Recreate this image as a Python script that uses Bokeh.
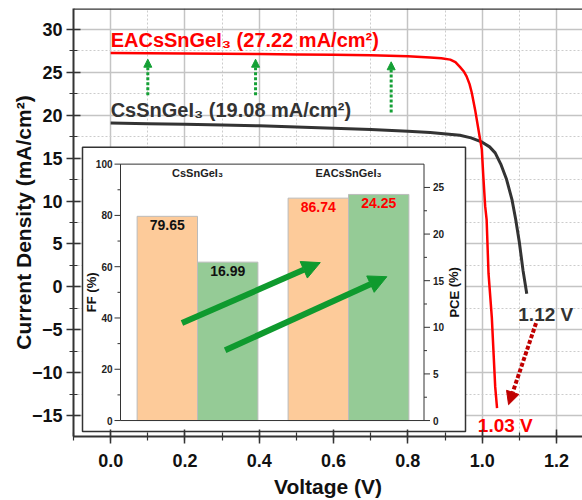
from bokeh.plotting import figure
from bokeh.models import (Range1d, SingleIntervalTicker, Arrow, NormalHead, Span,
                          ColumnDataSource, PrintfTickFormatter)
from bokeh.core.properties import value
from bokeh.embed import file_html
from bokeh.resources import INLINE

FONT = "Liberation Sans"

# ---------------- data ----------------
# J-V curve, CsSnGeI3
v_cs = [0.00, 0.10, 0.20, 0.30, 0.40, 0.50, 0.60, 0.70, 0.80, 0.86, 0.94, 0.97,
        1.00, 1.02, 1.035, 1.05, 1.065, 1.08, 1.09, 1.10, 1.11, 1.12]
j_cs = [19.08, 19.00, 18.92, 18.85, 18.75, 18.62, 18.48, 18.32, 18.12, 17.98, 17.65,
        17.35, 16.85, 16.30, 15.60, 14.30, 12.60, 10.20, 7.90, 5.20, 1.90, -0.80]
# J-V curve, EACsSnGeI3
v_ea = [0.00, 0.10, 0.20, 0.30, 0.40, 0.50, 0.60, 0.70, 0.80, 0.86, 0.89, 0.914,
        0.928, 0.94, 0.95, 0.958, 0.966, 0.972, 0.981, 0.99, 0.999, 1.003, 1.008,
        1.012, 1.017, 1.026, 1.035, 1.04]
j_ea = [27.22, 27.20, 27.17, 27.14, 27.10, 27.06, 27.02, 26.96, 26.85, 26.70, 26.62,
        26.45, 26.15, 25.60, 25.10, 24.50, 23.60, 22.60, 20.60, 18.30, 16.00, 12.90,
        9.40, 7.80, 1.60, -3.60, -11.60, -14.10]

devices = ["CsSnGeI\u2083", "EACsSnGeI\u2083"]
jsc_values = [19.08, 27.22]
voc_values = [1.12, 1.03]
device_colors = ["#333333", "#ff0000"]

# inset bar chart
ff_values = [79.65, 86.74]
pce_values = [16.99, 24.25]
bar_label_colors = ["#111111", "#ff0000"]
ff_ticks = [0, 20, 40, 60, 80, 100]
ff_minor = [10, 30, 50, 70, 90]
pce_ticks = [0, 5, 10, 15, 20, 25]
pce_minor = [2.5, 7.5, 12.5, 17.5, 22.5]

x_tick_interval = 0.2
y_tick_interval = 5
y_minus_ticks = [-5, -10, -15]

# ---------------- layout constants (pixels) ----------------
W, H = 582, 500
FL, FR, FT, FB = 73, 582, 8, 437          # main frame
IL, IR, IT, IB = 120, 423.5, 164, 421     # inset axes area
BOX = (82, 465, 147, 432)                 # inset outer box (l, r, t, b)
IX0, IX1 = 0.49, 2.5
FF_MAX, PCE_MAX = 100.0, 27.5

X0, X1 = -0.1, 1.27
Y0, Y1 = -17.4, 32.4

p = figure(width=W, height=H, x_range=Range1d(X0, X1), y_range=Range1d(Y0, Y1),
           output_backend="svg", toolbar_location=None,
           min_border_left=FL, min_border_right=W - FR, min_border_top=FT,
           min_border_bottom=H - FB)
p.outline_line_color = None
p.background_fill_color = "white"

# extra ranges for inset
su = (IR - IL) / (IX1 - IX0)
sff = (IB - IT) / FF_MAX
spc = (IB - IT) / PCE_MAX
p.extra_x_ranges = {"ix": Range1d(IX0 - (IL - FL) / su, IX1 + (FR - IR) / su)}
p.extra_y_ranges = {"ff": Range1d(-(FB - IB) / sff, FF_MAX + (IT - FT) / sff),
                    "pce": Range1d(-(FB - IB) / spc, PCE_MAX + (IT - FT) / spc)}

# axes styling
for ax in (p.xaxis[0], p.yaxis[0]):
    ax.axis_line_color = "#333333"
    ax.axis_line_width = 2
    ax.major_tick_line_color = "#333333"
    ax.minor_tick_line_color = "#333333"
    ax.major_tick_line_width = 1.5
    ax.minor_tick_line_width = 1.2
    ax.major_tick_out = 7
    ax.major_tick_in = 7
    ax.minor_tick_out = 4
    ax.minor_tick_in = 4
    ax.major_label_text_font = FONT
    ax.major_label_text_font_style = "bold"
    ax.major_label_text_font_size = "18px"
    ax.major_label_text_color = "#111111"
    ax.axis_label_text_font = FONT
    ax.axis_label_text_font_style = "bold"
    ax.axis_label_text_font_size = "21px"
    ax.axis_label_text_color = "#111111"

p.xaxis.ticker = SingleIntervalTicker(interval=x_tick_interval, num_minor_ticks=2)
p.yaxis.ticker = SingleIntervalTicker(interval=y_tick_interval, num_minor_ticks=2)
p.xaxis.formatter = PrintfTickFormatter(format="%.1f")
p.xaxis.axis_label = "Voltage (V)"
p.yaxis.axis_label = "Current Density (mA/cm\u00b2)"
p.xaxis.major_label_standoff = 10
p.yaxis.major_label_standoff = 4
p.xaxis.axis_label_standoff = 5
p.yaxis.axis_label_standoff = -6
p.yaxis.major_label_overrides = {t: "\u2212" + str(abs(t)) for t in y_minus_ticks}

for g in (p.xgrid[0], p.ygrid[0]):
    g.grid_line_color = "#c4c4c4"
    g.grid_line_width = 1.5
    g.minor_grid_line_color = "#cccccc"
    g.minor_grid_line_width = 1
    g.minor_grid_line_dash = "2 2"

# top border
p.add_layout(Span(location=Y1, dimension="width", line_color="#333333", line_width=2.5))

# ---------------- J-V curves ----------------
p.line(v_cs, j_cs, line_color=device_colors[0], line_width=3, line_join="round")
p.line(v_ea, j_ea, line_color=device_colors[1], line_width=2.5, line_join="round")

jsc_src = ColumnDataSource(dict(
    x=[0.0, 0.0], y=jsc_values,
    text=[f"{d} ({j:.2f} mA/cm\u00b2)" for d, j in zip(devices, jsc_values)],
    color=device_colors))
p.text(x="x", y="y", text="text", source=jsc_src, text_color="color",
       text_font=value(FONT), text_font_style="bold", text_font_size="20px",
       text_align="left", text_baseline="bottom", y_offset=-2)

voc_src = ColumnDataSource(dict(
    x=voc_values, y=[0.0, 0.0],
    text=[f"{v:.2f} V" for v in voc_values], color=device_colors,
    xo=[19, 12], yo=[28, 139]))
p.text(x="x", y="y", text="text", source=voc_src, text_color="color",
       text_font=value(FONT), text_font_style="bold", text_font_size="19px",
       text_align="center", text_baseline="alphabetic", x_offset="xo", y_offset="yo")

# green dotted vertical arrows (Jsc increase)
GREEN_D = "#14a035"
for xs, ys, ye in [(0.10, 22.3, 26.5), (0.39, 22.3, 26.5), (0.755, 20.3, 26.2)]:
    p.add_layout(Arrow(end=NormalHead(size=8, fill_color=GREEN_D, line_color=GREEN_D,
                                      line_width=1),
                       x_start=xs, y_start=ys, x_end=xs, y_end=ye,
                       line_color=GREEN_D, line_width=3, line_dash="3 2"))

# red dotted arrow (Voc decrease)
DRED = "#c00000"
p.add_layout(Arrow(end=NormalHead(size=13, fill_color=DRED, line_color=DRED, line_width=1),
                   x_start=1.145, y_start=-4.2, x_end=1.071, y_end=-13.7,
                   line_color=DRED, line_width=4, line_dash="4 2"))

# ---------------- inset ----------------
def ux(px):
    return IX0 + (px - IL) / su

def uff(py):
    return (IB - py) / sff

p.quad(left=ux(BOX[0]), right=ux(BOX[1]), top=uff(BOX[2]), bottom=uff(BOX[3]),
       x_range_name="ix", y_range_name="ff", fill_color="white",
       line_color="#333333", line_width=1.5)

group_x = [1, 2]
ff_x = [g - 0.2 for g in group_x]
pce_x = [g + 0.2 for g in group_x]
p.vbar(x=ff_x, top=ff_values, bottom=0, width=0.4, x_range_name="ix", y_range_name="ff",
       fill_color="#fdcb9a", line_color="#bbbbbb", line_width=1)
p.vbar(x=pce_x, top=pce_values, bottom=0, width=0.4, x_range_name="ix", y_range_name="pce",
       fill_color="#95cb96", line_color="#bbbbbb", line_width=1)

# inset frame
p.quad(left=IX0, right=IX1, bottom=0, top=FF_MAX, x_range_name="ix", y_range_name="ff",
       fill_color=None, line_color="#333333", line_width=1)

tl, tm = 6 / su, 3 / su
p.segment(x0=[IX0 - tl] * len(ff_ticks), x1=[IX0] * len(ff_ticks), y0=ff_ticks, y1=ff_ticks,
          x_range_name="ix", y_range_name="ff", line_color="#333333", line_width=1)
p.segment(x0=[IX0 - tm] * len(ff_minor), x1=[IX0] * len(ff_minor), y0=ff_minor, y1=ff_minor,
          x_range_name="ix", y_range_name="ff", line_color="#333333", line_width=1)
p.segment(x0=[IX1] * len(pce_ticks), x1=[IX1 + tl] * len(pce_ticks), y0=pce_ticks, y1=pce_ticks,
          x_range_name="ix", y_range_name="pce", line_color="#333333", line_width=1)
p.segment(x0=[IX1] * len(pce_minor), x1=[IX1 + tm] * len(pce_minor), y0=pce_minor, y1=pce_minor,
          x_range_name="ix", y_range_name="pce", line_color="#333333", line_width=1)

small = dict(text_font=value(FONT), text_font_style="bold", text_font_size="10px",
             text_color="#222222", text_baseline="middle")
p.text(x=[IX0] * len(ff_ticks), y=ff_ticks, text=[str(t) for t in ff_ticks],
       x_range_name="ix", y_range_name="ff", text_align="right", x_offset=-8, **small)
p.text(x=[IX1] * len(pce_ticks), y=pce_ticks, text=[str(t) for t in pce_ticks],
       x_range_name="ix", y_range_name="pce", text_align="left", x_offset=9, **small)

p.text(x=[IX0], y=[FF_MAX / 2], text=["FF (%)"], x_range_name="ix", y_range_name="ff",
       angle=1.5708, text_align="center", text_baseline="middle", x_offset=-29,
       text_font=value(FONT), text_font_style="bold", text_font_size="13px",
       text_color="#111111")
p.text(x=[IX1], y=[PCE_MAX / 2], text=["PCE (%)"], x_range_name="ix", y_range_name="pce",
       angle=1.5708, text_align="center", text_baseline="middle", x_offset=30,
       text_font=value(FONT), text_font_style="bold", text_font_size="13px",
       text_color="#111111")

p.text(x=group_x, y=[96.5, 96.5], text=devices, x_range_name="ix", y_range_name="ff",
       text_align="center", text_baseline="middle", text_font=value(FONT),
       text_font_style="bold", text_font_size="11px", text_color="#222222")

lbl = dict(text_font=value(FONT), text_font_style="bold", text_font_size="14px",
           text_align="center", text_baseline="middle", y_offset=9)
p.text(x=ff_x, y=ff_values, text=[f"{v:.2f}" for v in ff_values], text_color=bar_label_colors,
       x_range_name="ix", y_range_name="ff", **lbl)
p.text(x=pce_x, y=pce_values, text=[f"{v:.2f}" for v in pce_values], text_color=bar_label_colors,
       x_range_name="ix", y_range_name="pce", **lbl)

GREEN = "#0f9a2e"
for (xs, ys, xe, ye) in [(0.897, 38.0, 1.813, 61.6), (1.183, 27.4, 2.254, 56.1)]:
    p.add_layout(Arrow(end=NormalHead(size=18, fill_color=GREEN, line_color=GREEN, line_width=1),
                       x_start=xs, y_start=ys, x_end=xe, y_end=ye,
                       x_range_name="ix", y_range_name="ff",
                       line_color=GREEN, line_width=6))

open("out.html", "w").write(file_html(p, INLINE))
